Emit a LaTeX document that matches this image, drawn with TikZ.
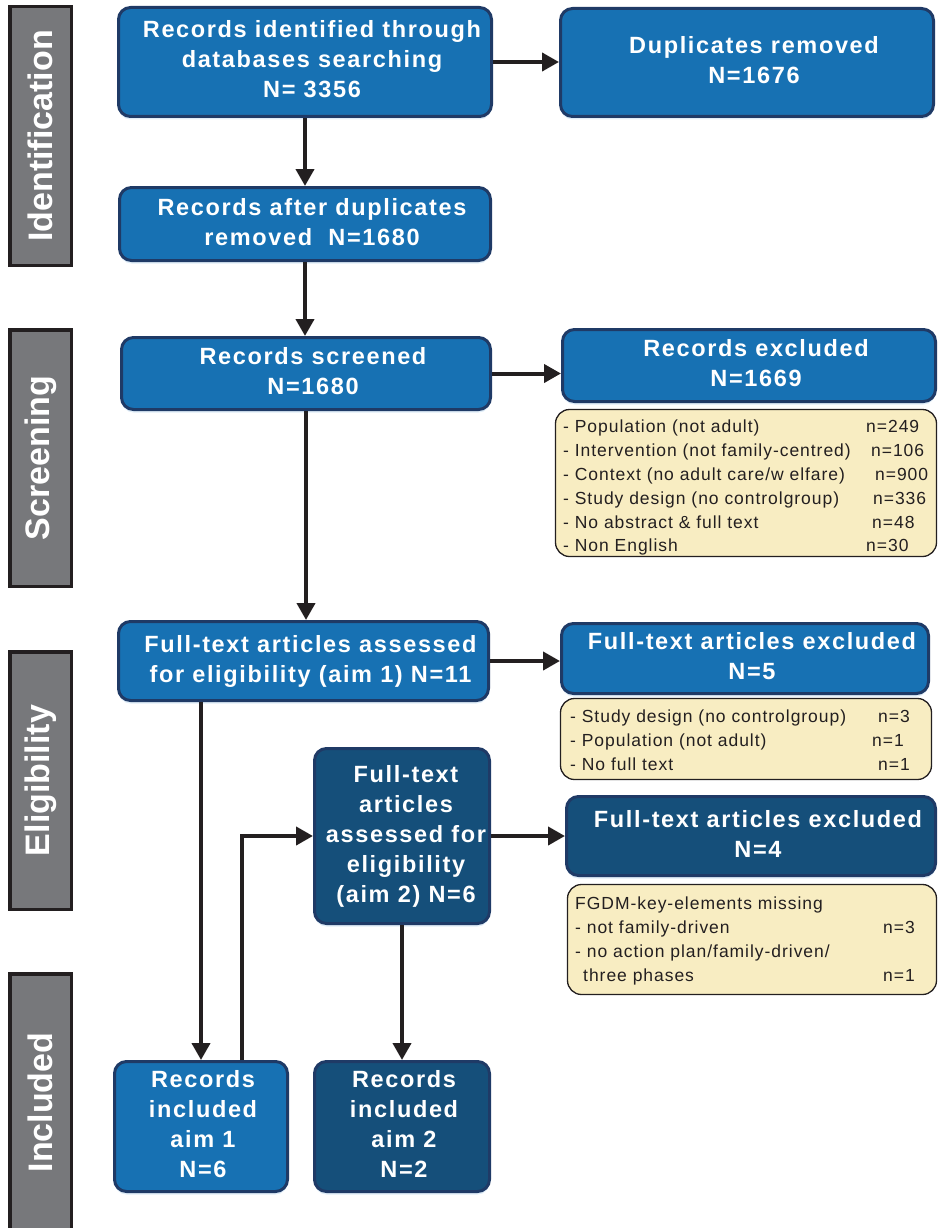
\documentclass[tikz,border=0pt]{standalone}
\usepackage{fontspec}
\setmainfont{Liberation Sans}
\newfontfamily\boxfont[LetterSpace=7]{Liberation Sans}
\newfontfamily\listfont[LetterSpace=5.5]{Liberation Sans}
\usetikzlibrary{arrows.meta,shadows,calc}
\definecolor{bfill}{HTML}{1771B3}
\definecolor{bdark}{HTML}{154F7A}
\definecolor{bline}{HTML}{1F3A66}
\definecolor{ink}{HTML}{231F20}
\definecolor{gbar}{HTML}{77787B}
\definecolor{cream}{HTML}{F8EDC2}
\definecolor{glow}{HTML}{DCEBF7}
\newcommand\bt[2][14pt]{\hspace*{#1}\begin{tabular}{@{}c@{}}#2\end{tabular}}
\newcommand\yl[3]{\makebox[#1][l]{#2}#3}
\begin{document}
\begin{tikzpicture}[x=1pt,y=-1pt,
  bluebox/.style={draw=bline, line width=3pt, rounded corners=12pt, fill=bfill,
    text=white, inner sep=0pt,
    font=\boxfont\bfseries\fontsize{23.5}{30}\selectfont,
    drop shadow={shadow xshift=0pt, shadow yshift=-3pt, fill=glow, opacity=0.9}},
  darkbox/.style={bluebox, fill=bdark},
  ybox/.style={draw=ink, line width=1.3pt, rounded corners=14pt, fill=cream, inner sep=0pt},
  ytext/.style={anchor=north west, inner sep=0pt, text=ink,
    font=\listfont\fontsize{17.5}{23.8}\selectfont},
  sidebar/.style={draw=ink, line width=3.5pt, fill=gbar, text=white, rotate=90,
    inner sep=0pt, font=\bfseries\fontsize{34}{36}\selectfont},
  arr/.style={draw=ink, line width=4pt, -{Triangle[length=17pt,width=18pt]}}]
\useasboundingbox (0,0) rectangle (941,1228);
\clip (0,0) rectangle (941,1228);

% side bars
\node[sidebar, minimum width=258.5pt, minimum height=61.5pt] (s1) at (40.5,136) {Identification};
\node[sidebar, minimum width=256.5pt, minimum height=61.5pt] (s2) at (40.5,458) {Screening};
\node[sidebar, minimum width=257.5pt, minimum height=61.5pt] (s3) at (40.5,780.5) {Eligibility};
\node[sidebar, minimum width=257.5pt, minimum height=61.5pt] (s4) at (40.5,1102.5) {Included};

% boxes
\node[bluebox, minimum width=373pt, minimum height=109pt] (b1) at (305,62)
  {\bt{Records identified through\\databases searching\\N= 3356}};
\node[bluebox, minimum width=373pt, minimum height=108pt] (b2) at (747,62.5)
  {\bt{Duplicates removed\\N=1676}};
\node[bluebox, minimum width=371pt, minimum height=73pt] (b3) at (305,224)
  {\bt{Records after duplicates\\removed~ N=1680}};
\node[bluebox, minimum width=369pt, minimum height=72pt] (b4) at (306,373.5)
  {\bt{Records screened\\N=1680}};
\node[bluebox, minimum width=373pt, minimum height=72pt] (b5) at (749,365.5)
  {\bt{Records excluded\\N=1669}};
\node[bluebox, minimum width=370pt, minimum height=79pt] (b7) at (303.5,661)
  {\bt{Full-text articles assessed\\for eligibility (aim 1) N=11}};
\node[bluebox, minimum width=367pt, minimum height=70pt] (b8) at (745,658.5)
  {\bt{Full-text articles excluded\\N=5}};
\node[darkbox, minimum width=175pt, minimum height=175pt] (b10) at (402,836)
  {\bt[8pt]{Full-text\\articles\\assessed for\\eligibility\\(aim 2) N=6}};
\node[darkbox, minimum width=369pt, minimum height=79pt] (b11) at (751,836)
  {\bt{Full-text articles excluded\\N=4}};
\node[bluebox, minimum width=173pt, minimum height=130pt] (b13) at (201,1126.5)
  {\bt[4pt]{Records\\included\\aim 1\\N=6}};
\node[darkbox, minimum width=175pt, minimum height=130pt] (b14) at (402,1126.5)
  {\bt[4pt]{Records\\included\\aim 2\\N=2}};

% yellow boxes
\node[ybox, minimum width=381pt, minimum height=147pt] (y1) at (746,483) {};
\node[ytext] (y1t) at (563,416) {\begin{tabular}{@{}l@{}}
\yl{303pt}{- Population (not adult)}{n=249}\\
\yl{308pt}{- Intervention (not family-centred)}{n=106}\\
\yl{312pt}{- Context (no adult care/w elfare)}{n=900}\\
\yl{310pt}{- Study design (no controlgroup)}{n=336}\\
\yl{309pt}{- No abstract \& full text}{n=48}\\
\yl{303pt}{- Non English}{n=30}
\end{tabular}};
\node[ybox, minimum width=371pt, minimum height=81pt] (y2) at (746,739) {};
\node[ytext] (y2t) at (570,706) {\begin{tabular}{@{}l@{}}
\yl{308pt}{- Study design (no controlgroup)}{n=3}\\
\yl{302pt}{- Population (not adult)}{n=1}\\
\yl{308pt}{- No full text}{n=1}
\end{tabular}};
\node[ybox, minimum width=369pt, minimum height=110pt] (y3) at (752,939.5) {};
\node[ytext] (y3t) at (575,893) {\begin{tabular}{@{}l@{}}
FGDM-key-elements missing\\
\yl{308pt}{- not family-driven}{n=3}\\
- no action plan/family-driven/\\
\yl{308pt}{\hspace*{8pt}three phases}{n=1}
\end{tabular}};

% connectors
\draw[arr] (b1.east) -- (b1.east -| b2.west);
\draw[arr] (b1.south) -- (b1.south |- b3.north);
\draw[arr] (b3.south) -- (b3.south |- b4.north);
\draw[arr] (b4.east) -- (b4.east -| b5.west);
\draw[arr] (b4.south) -- (b4.south |- b7.north);
\draw[arr] (b7.east) -- (b7.east -| b8.west);
\draw[arr] (b7.south -| b13.north) -- (b13.north);
\draw[arr] ([xshift=41pt]b13.north) |- (b10.west);
\draw[arr] (b10.east) -- (b10.east -| b11.west);
\draw[arr] (b10.south) -- (b10.south |- b14.north);
\end{tikzpicture}
\end{document}
